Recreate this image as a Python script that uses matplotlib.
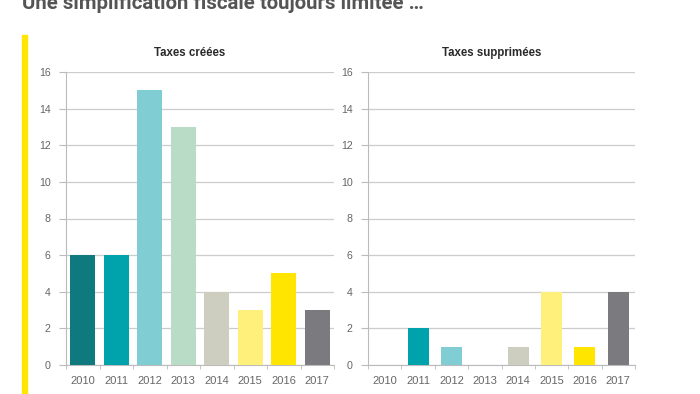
import matplotlib.pyplot as plt
import numpy as np

years = ['2010', '2011', '2012', '2013', '2014', '2015', '2016', '2017']
taxes_creees = [6, 6, 15, 13, 4, 3, 5, 3]
taxes_supprimees = [0, 2, 1, 0, 1, 4, 1, 4]
year_colors = ['#0f7a7e', '#00a2ac', '#80cdd4', '#b8dcc5', '#cdcdc0',
               '#fff07c', '#ffe500', '#7a7a7f']

plt.rcParams['font.family'] = ['Liberation Sans', 'DejaVu Sans']

W, H = 700, 394
fig = plt.figure(figsize=(W / 100, H / 100), dpi=100)
fig.patch.set_facecolor('white')


def px_axes(x0, x1, y0, y1):
    # axes from pixel box (top-left origin)
    return fig.add_axes([x0 / W, 1 - y1 / H, (x1 - x0) / W, (y1 - y0) / H])


def draw_panel(ax, values, title, bar_w):
    x = np.arange(len(years))
    ax.bar(x, values, width=bar_w, color=year_colors, zorder=3)
    ax.set_xlim(-0.5, len(years) - 0.5)
    ax.set_ylim(0, 16)
    ax.set_yticks(range(0, 17, 2))
    ax.set_xticks(x)
    ax.set_xticklabels(years)
    ax.set_xticks(np.arange(-0.5, len(years)), minor=True)
    ax.tick_params(axis='x', which='major', length=0, pad=8,
                   labelsize=8, labelcolor='#666666')
    ax.tick_params(axis='x', which='minor', length=3, color='#bbbbbb')
    ax.tick_params(axis='y', length=5, color='#bbbbbb', pad=6,
                   labelsize=7.7, labelcolor='#666666')
    ax.grid(axis='y', color='#cccccc', linewidth=0.9, zorder=0)
    for s in ['top', 'right']:
        ax.spines[s].set_visible(False)
    for s in ['left', 'bottom']:
        ax.spines[s].set_color('#bbbbbb')
        ax.spines[s].set_linewidth(0.8)
    ax.text(0.462, 1 + 19 / 293, title, transform=ax.transAxes,
            ha='center', va='center', fontsize=8.3, fontweight='bold',
            color='#2a2a2a')


ax1 = px_axes(66, 334, 72, 365)
draw_panel(ax1, taxes_creees, 'Taxes créées', 0.76)
ax2 = px_axes(368, 635, 72, 365)
draw_panel(ax2, taxes_supprimees, 'Taxes supprimées', 0.63)

# yellow accent bar on the left
fig.patches.append(plt.Rectangle((22 / W, 0), 5 / W, 1 - 35 / H,
                                 transform=fig.transFigure,
                                 color='#ffe500', zorder=5))

fig.text(22 / W, 1 - 9 / H, 'Une simplification fiscale toujours limitée …',
         fontsize=14.7, fontweight='bold', color='#555555',
         family=['Roboto', 'DejaVu Sans'], va='baseline')

fig.savefig('out.png', dpi=100, facecolor='white')
